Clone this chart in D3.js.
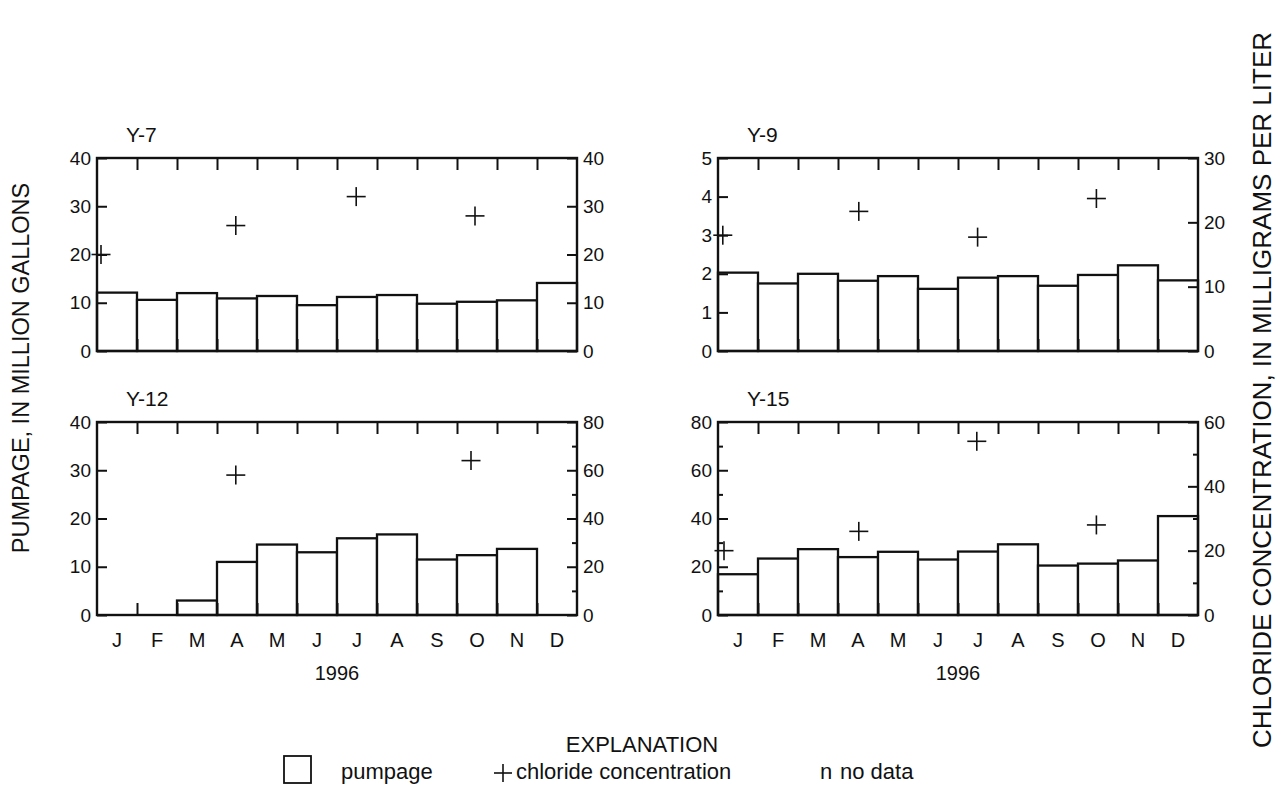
<!DOCTYPE html>
<html>
<head>
<meta charset="utf-8">
<script src="https://cdn.jsdelivr.net/npm/d3@7"></script>
<style>
  html, body { margin: 0; padding: 0; background: #fff; }
  svg { display: block; }
  text { font-family: "Liberation Sans", Arial, Helvetica, sans-serif; fill: #111; }
</style>
</head>
<body>
<svg id="chart" width="1283" height="789"></svg>
<script>
// Monthly pumpage (million gallons) and chloride samples (mg/L), 1996
const months = ["J", "F", "M", "A", "M", "J", "J", "A", "S", "O", "N", "D"];
const yearLabel = "1996";

const pumpY7  = [12.1, 10.6, 12.0, 10.9, 11.4, 9.5, 11.2, 11.6, 9.8, 10.2, 10.5, 14.1];
const pumpY9  = [2.03, 1.75, 2.0, 1.82, 1.94, 1.61, 1.90, 1.94, 1.69, 1.97, 2.22, 1.83];
const pumpY12 = [0, 0, 3.0, 11.0, 14.6, 13.0, 15.9, 16.7, 11.5, 12.4, 13.7, 0];
const pumpY15 = [16.9, 23.4, 27.3, 24.0, 26.2, 23.0, 26.3, 29.3, 20.5, 21.3, 22.6, 41.0];

// sample time in months from 1 January, and chloride value
const clTimeY7  = [0.1, 3.47, 6.48, 9.45];
const clY7      = [20, 26, 32, 28];
const clTimeY9  = [0.12, 3.52, 6.49, 9.46];
const clY9      = [18, 21.7, 17.7, 23.7];
const clTimeY12 = [3.47, 9.35];
const clY12     = [58, 64];
const clTimeY15 = [0.15, 3.52, 6.47, 9.46];
const clY15     = [20, 26, 54, 28];

// axis settings per well: pumpage (left) and chloride (right)
const leftMaxY7 = 40,  leftTicksY7 = [0, 10, 20, 30, 40], leftMinorY7 = [];
const rightMaxY7 = 40, rightTicksY7 = [0, 10, 20, 30, 40], rightMinorY7 = [];
const leftMaxY9 = 5,   leftTicksY9 = [0, 1, 2, 3, 4, 5], leftMinorY9 = [];
const rightMaxY9 = 30, rightTicksY9 = [0, 10, 20, 30], rightMinorY9 = [];
const leftMaxY12 = 40, leftTicksY12 = [0, 10, 20, 30, 40], leftMinorY12 = [];
const rightMaxY12 = 80, rightTicksY12 = [0, 20, 40, 60, 80], rightMinorY12 = [10, 30, 50, 70];
const leftMaxY15 = 80, leftTicksY15 = [0, 20, 40, 60, 80], leftMinorY15 = [10, 30, 50, 70];
const rightMaxY15 = 60, rightTicksY15 = [0, 20, 40, 60], rightMinorY15 = [10, 30, 50];

const panels = [
  { name: "Y-7",  x: 97,  y: 158, pump: pumpY7,  clT: clTimeY7,  cl: clY7,
    lMax: leftMaxY7, lT: leftTicksY7, lM: leftMinorY7, rMax: rightMaxY7, rT: rightTicksY7, rM: rightMinorY7, months: false },
  { name: "Y-9",  x: 718, y: 158, pump: pumpY9,  clT: clTimeY9,  cl: clY9,
    lMax: leftMaxY9, lT: leftTicksY9, lM: leftMinorY9, rMax: rightMaxY9, rT: rightTicksY9, rM: rightMinorY9, months: false },
  { name: "Y-12", x: 97,  y: 422, pump: pumpY12, clT: clTimeY12, cl: clY12,
    lMax: leftMaxY12, lT: leftTicksY12, lM: leftMinorY12, rMax: rightMaxY12, rT: rightTicksY12, rM: rightMinorY12, months: true },
  { name: "Y-15", x: 718, y: 422, pump: pumpY15, clT: clTimeY15, cl: clY15,
    lMax: leftMaxY15, lT: leftTicksY15, lM: leftMinorY15, rMax: rightMaxY15, rT: rightTicksY15, rM: rightMinorY15, months: true }
];

const W = 480, H = 193;
const svg = d3.select("#chart");
const fmt = d3.format("d");

panels.forEach(p => {
  const g = svg.append("g").attr("transform", `translate(${p.x},${p.y})`);

  const xBand = d3.scaleBand().domain(d3.range(12)).range([0, W]).padding(0);
  const xTime = d3.scaleLinear().domain([0, 12]).range([0, W]);
  const yL = d3.scaleLinear().domain([0, p.lMax]).range([H, 0]);
  const yR = d3.scaleLinear().domain([0, p.rMax]).range([H, 0]);

  // pumpage bars
  g.selectAll("rect.bar").data(p.pump).join("rect")
    .attr("class", "bar")
    .attr("x", (d, i) => xBand(i))
    .attr("y", d => yL(d))
    .attr("width", xBand.bandwidth())
    .attr("height", d => H - yL(d))
    .attr("fill", "#fff").attr("stroke", "#111").attr("stroke-width", 2.3);

  // month division ticks on top and bottom edges
  const bounds = d3.range(1, 12);
  g.append("g").call(d3.axisTop(xTime).tickValues(bounds).tickSize(-12).tickFormat(""));
  g.append("g").attr("transform", `translate(0,${H})`)
    .call(d3.axisBottom(xTime).tickValues(bounds).tickSize(-12).tickFormat(""));

  // left (pumpage) axis
  g.append("g").call(d3.axisLeft(yL).tickValues(p.lT).tickFormat(fmt).tickSize(-10).tickPadding(6))
    .call(a => a.selectAll("text").attr("font-size", 19));
  if (p.lM.length) g.append("g").call(d3.axisLeft(yL).tickValues(p.lM).tickSize(-5).tickFormat(""));

  // right (chloride) axis
  g.append("g").attr("transform", `translate(${W},0)`)
    .call(d3.axisRight(yR).tickValues(p.rT).tickFormat(fmt).tickSize(-10).tickPadding(6))
    .call(a => a.selectAll("text").attr("font-size", 19));
  if (p.rM.length) g.append("g").attr("transform", `translate(${W},0)`)
    .call(d3.axisRight(yR).tickValues(p.rM).tickSize(-5).tickFormat(""));

  g.selectAll(".domain").remove();
  g.selectAll(".tick line").attr("stroke", "#111").attr("stroke-width", 2);

  // frame
  g.append("rect").attr("width", W).attr("height", H)
    .attr("fill", "none").attr("stroke", "#111").attr("stroke-width", 2.4);

  // chloride samples
  const cs = 9.5;
  const cross = g.selectAll("g.cl").data(p.cl).join("g").attr("class", "cl")
    .attr("transform", (d, i) => `translate(${xTime(p.clT[i])},${yR(d)})`);
  cross.append("line").attr("x1", -cs).attr("x2", cs).attr("stroke", "#111").attr("stroke-width", 1.6);
  cross.append("line").attr("y1", -cs).attr("y2", cs).attr("stroke", "#111").attr("stroke-width", 1.6);

  // well name
  g.append("text").attr("x", 29).attr("y", -16).attr("font-size", 21).text(p.name);

  if (p.months) {
    g.selectAll("text.month").data(months).join("text").attr("class", "month")
      .attr("x", (d, i) => xBand(i) + xBand.bandwidth() / 2)
      .attr("y", H + 32).attr("text-anchor", "middle").attr("font-size", 20).text(d => d);
    g.append("text").attr("x", W / 2).attr("y", H + 65).attr("text-anchor", "middle")
      .attr("font-size", 20).text(yearLabel);
  }
});

// axis titles
svg.append("text").attr("transform", "translate(29,368) rotate(-90)").attr("text-anchor", "middle")
  .attr("font-size", 23.5).text("PUMPAGE, IN MILLION GALLONS");
svg.append("text").attr("transform", "translate(1271,390) rotate(-90)").attr("text-anchor", "middle")
  .attr("font-size", 26).text("CHLORIDE CONCENTRATION, IN MILLIGRAMS PER LITER");

// explanation
svg.append("text").attr("x", 642).attr("y", 752).attr("text-anchor", "middle").attr("font-size", 22).text("EXPLANATION");
svg.append("rect").attr("x", 284).attr("y", 756).attr("width", 27).attr("height", 27)
  .attr("fill", "#fff").attr("stroke", "#111").attr("stroke-width", 1.8);
svg.append("text").attr("x", 341).attr("y", 779).attr("font-size", 22).text("pumpage");
const lc = svg.append("g").attr("transform", "translate(503,773)");
lc.append("line").attr("x1", -9).attr("x2", 9).attr("stroke", "#111").attr("stroke-width", 1.6);
lc.append("line").attr("y1", -9).attr("y2", 9).attr("stroke", "#111").attr("stroke-width", 1.6);
svg.append("text").attr("x", 516).attr("y", 779).attr("font-size", 22).text("chloride concentration");
svg.append("text").attr("x", 820).attr("y", 779).attr("font-size", 22).text("n");
svg.append("text").attr("x", 840).attr("y", 779).attr("font-size", 22).text("no data");
</script>
</body>
</html>
